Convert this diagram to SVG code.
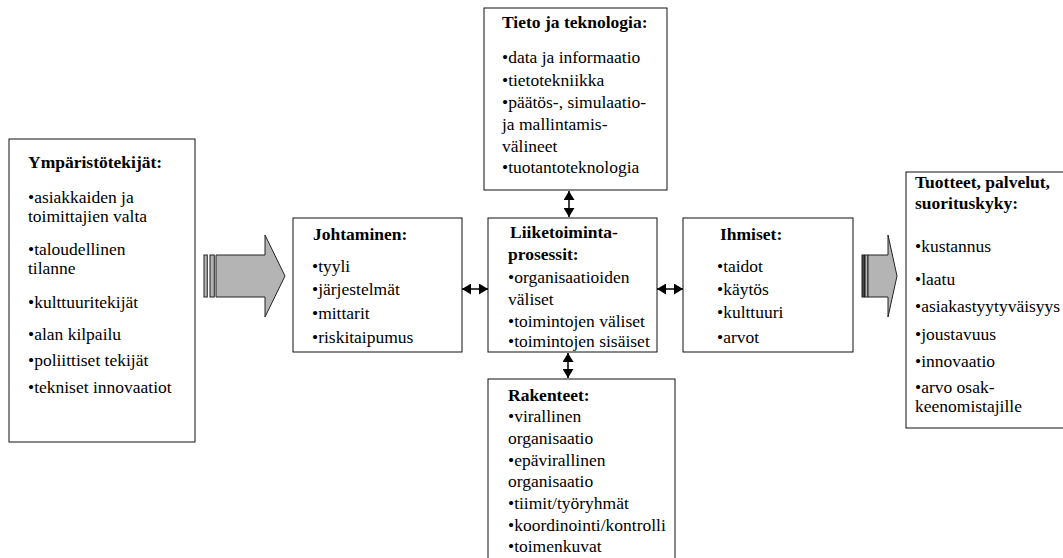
<svg xmlns="http://www.w3.org/2000/svg" width="1063" height="558" viewBox="0 0 1063 558">
<style>
.t{font-family:'Liberation Serif','Times New Roman',serif;font-size:17.5px;fill:#000}
.b{font-weight:bold}
.box{fill:#fff;stroke:#111;stroke-width:1}
.big{fill:#b4b4b4;stroke:#222;stroke-width:1}
.con{stroke:#000;stroke-width:1.5;fill:none;marker-start:url(#ah);marker-end:url(#ah)}
</style>
<defs>
<marker id="ah" markerUnits="userSpaceOnUse" markerWidth="10" markerHeight="11" refX="9" refY="5.5" orient="auto-start-reverse">
<path d="M0,0 L9,5.5 L0,11 Z" fill="#000"/>
</marker>
</defs>
<rect width="1063" height="558" fill="#fff"/>

<g id="ymparisto" class="t">
<rect class="box" x="9" y="139" width="186" height="303"/>
<text class="b" x="28" y="168">Ympäristötekijät:</text>
<text x="28" y="203">•asiakkaiden ja</text>
<text x="28" y="222">toimittajien valta</text>
<text x="28" y="255">•taloudellinen</text>
<text x="28" y="274">tilanne</text>
<text x="28" y="308">•kulttuuritekijät</text>
<text x="28" y="340">•alan kilpailu</text>
<text x="28" y="366">•poliittiset tekijät</text>
<text x="28" y="393">•tekniset innovaatiot</text>
</g>

<g id="arrow-in">
<rect class="big" x="204" y="255" width="3.3" height="42"/>
<rect class="big" x="210" y="255" width="4.3" height="42"/>
<path class="big" d="M216,255 H265 V235 L285,276 L265,317 V297 H216 Z"/>
</g>

<g id="johtaminen" class="t">
<rect class="box" x="293" y="218" width="169" height="134"/>
<text class="b" x="313" y="240">Johtaminen:</text>
<text x="312" y="272">•tyyli</text>
<text x="312" y="295">•järjestelmät</text>
<text x="312" y="319">•mittarit</text>
<text x="312" y="343">•riskitaipumus</text>
</g>

<g id="tieto" class="t">
<rect class="box" x="484" y="8" width="183" height="182"/>
<text class="b" x="502" y="28">Tieto ja teknologia:</text>
<text x="502" y="63">•data ja informaatio</text>
<text x="502" y="86">•tietotekniikka</text>
<text x="502" y="108">•päätös-, simulaatio-</text>
<text x="502" y="130">ja mallintamis-</text>
<text x="502" y="152">välineet</text>
<text x="502" y="173">•tuotantoteknologia</text>
</g>

<g id="liiketoiminta" class="t">
<rect class="box" x="488" y="218" width="169" height="134"/>
<text class="b" x="510" y="238">Liiketoiminta-</text>
<text class="b" x="508" y="260">prosessit:</text>
<text x="508" y="283">•organisaatioiden</text>
<text x="508" y="305">väliset</text>
<text x="508" y="327">•toimintojen väliset</text>
<text x="508" y="347">•toimintojen sisäiset</text>
</g>

<g id="rakenteet" class="t">
<rect class="box" x="488" y="379" width="187" height="185"/>
<text class="b" x="508" y="401">Rakenteet:</text>
<text x="508" y="422">•virallinen</text>
<text x="508" y="444">organisaatio</text>
<text x="508" y="466">•epävirallinen</text>
<text x="508" y="487">organisaatio</text>
<text x="508" y="509">•tiimit/työryhmät</text>
<text x="508" y="531">•koordinointi/kontrolli</text>
<text x="508" y="552">•toimenkuvat</text>
</g>

<g id="ihmiset" class="t">
<rect class="box" x="683" y="218" width="170" height="134"/>
<text class="b" x="720" y="240">Ihmiset:</text>
<text x="717" y="272">•taidot</text>
<text x="717" y="295">•käytös</text>
<text x="717" y="318">•kulttuuri</text>
<text x="717" y="343">•arvot</text>
</g>

<g id="arrow-out">
<rect x="862" y="255" width="2.5" height="42" fill="#444" stroke="#222" stroke-width="1"/>
<rect class="big" x="865" y="255" width="3" height="42"/>
<path class="big" d="M868,255 H888 V235 L897,276 L888,317 V297 H868 Z"/>
</g>

<g id="tuotteet" class="t">
<rect class="box" x="906" y="172" width="170" height="256"/>
<text class="b" x="915" y="188">Tuotteet, palvelut,</text>
<text class="b" x="915" y="209">suorituskyky:</text>
<text x="915" y="252">•kustannus</text>
<text x="915" y="285">•laatu</text>
<text x="915" y="312">•asiakastyytyväisyys</text>
<text x="915" y="340">•joustavuus</text>
<text x="915" y="367">•innovaatio</text>
<text x="915" y="393">•arvo osak-</text>
<text x="915" y="412">keenomistajille</text>
</g>

<g id="connectors">
<line class="con" x1="462" y1="289" x2="488" y2="289"/>
<line class="con" x1="657" y1="289" x2="683" y2="289"/>
<line class="con" x1="569" y1="191" x2="569" y2="217"/>
<line class="con" x1="568" y1="353" x2="568" y2="378"/>
</g>
</svg>
